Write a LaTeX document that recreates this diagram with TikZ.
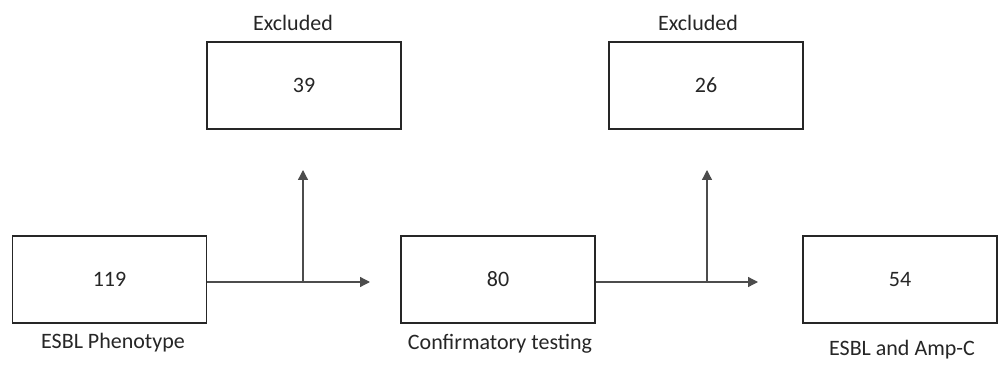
\documentclass[tikz,border=0pt]{standalone}
\usepackage{fontspec}
\setmainfont{Carlito}
\usetikzlibrary{arrows.meta}
\begin{document}
\begin{tikzpicture}[x=1pt,y=1pt,
  box/.style={draw=black!85,line width=1.7pt,minimum width=194pt,minimum height=87pt,inner sep=0pt,font=\fontsize{22}{26}\selectfont,text=black!85},
  lbl/.style={font=\fontsize{22}{26}\selectfont,text=black!85,inner sep=0pt},
  conn/.style={draw=black!70,line width=1.3pt},
  arr/.style={conn,-{Triangle[length=10pt,width=10pt]}}]
\useasboundingbox[fill=white] (0,0) rectangle (1002,370);
% bottom boxes
\node[box] (b1) at (109.5,90.5) {119};
\node[box] (b2) at (498,90.5) {80};
\node[box] (b3) at (900,90.5) {54};
% top boxes
\node[box] (t1) at (304,284.5) {39};
\node[box] (t2) at (706,284.5) {26};
% labels
\node[lbl] (l1) at (113,27) {ESBL Phenotype};
\node[lbl] (l2) at (500,26) {Confirmatory testing};
\node[lbl] (l3) at (902,20) {ESBL and Amp-C};
\node[lbl] (e1) at (293,347) {Excluded};
\node[lbl] (e2) at (698,347) {Excluded};
% connector coordinates
\coordinate (j1) at (303,88);
\coordinate (a1) at (370,88);
\coordinate (u1) at (303,200);
\coordinate (j2) at (707,88);
\coordinate (a2) at (758,88);
\coordinate (u2) at (707,200);
% connectors
\draw[arr] (b1.east |- j1) -- (a1);
\draw[arr] (j1) -- (u1);
\draw[arr] (b2.east |- j2) -- (a2);
\draw[arr] (j2) -- (u2);
\end{tikzpicture}
\end{document}
